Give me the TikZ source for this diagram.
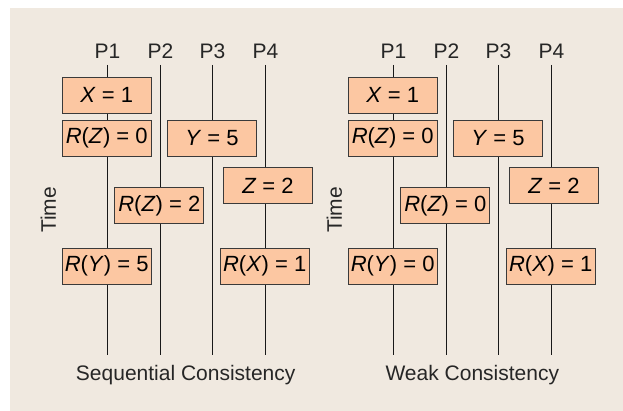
\documentclass[tikz,border=0pt]{standalone}
\usepackage{fontspec}
\setmainfont{Liberation Sans}
\usepackage{tikz}
\usetikzlibrary{positioning}
\definecolor{mybeige}{HTML}{F0E9E0}
\definecolor{mypeach}{HTML}{FCC7A2}
\definecolor{mygray}{HTML}{3A3A3A}
\tikzset{
	opbox/.style={draw=mygray, line width=0.9pt, fill=mypeach, minimum width=89pt, minimum height=36pt, inner sep=0pt, font=\fontsize{22}{24}\selectfont},
	proc/.style={font=\fontsize{21}{23}\selectfont, text=black!85, inner sep=0pt},
	pline/.style={line width=1.5pt, black!90}
}
\newcommand{\opv}[1]{\textit{#1}}

\begin{document}
\begin{tikzpicture}[x=1pt, y=-1pt]
	\useasboundingbox (0,0) rectangle (623,411);
	\fill[mybeige] (10,8) rectangle (623,411);
	% sequential consistency
	\node[proc, anchor=base] (sp1) at (107.5,58.5) {P1};
	\node[proc, anchor=base] (sp2) at (160.5,58.5) {P2};
	\node[proc, anchor=base] (sp3) at (212.5,58.5) {P3};
	\node[proc, anchor=base] (sp4) at (265.5,58.5) {P4};
	\coordinate (sb1) at (107.5,355);
	\coordinate (sb2) at (160.5,355);
	\coordinate (sb3) at (212.5,355);
	\coordinate (sb4) at (265.5,355);
	\draw[pline] (sp1.base) ++(0,6.5) -- (sb1);
	\draw[pline] (sp2.base) ++(0,6.5) -- (sb2);
	\draw[pline] (sp3.base) ++(0,6.5) -- (sb3);
	\draw[pline] (sp4.base) ++(0,6.5) -- (sb4);
	\node[opbox] (sx) at (106.7,95.3) {\opv{X} = 1};
	\node[opbox] (srz) at (106.7,138) {\opv{R}(\opv{Z}) = 0};
	\node[opbox] (sy) at (212,138) {\opv{Y} = 5};
	\node[opbox] (sz) at (268,185.7) {\opv{Z} = 2};
	\node[opbox] (srz2) at (159.3,205.7) {\opv{R}(\opv{Z}) = 2};
	\node[opbox] (sry) at (106.7,266.3) {\opv{R}(\opv{Y}) = 5};
	\node[opbox] (srx) at (264.7,266.3) {\opv{R}(\opv{X}) = 1};
	\node[proc, rotate=90] (stime) at (48.3,210) {Time};
	\node[proc, anchor=base] (sname) at (185.7,380) {Sequential Consistency};
	% weak consistency
	\node[proc, anchor=base] (wp1) at (393.5,58.5) {P1};
	\node[proc, anchor=base] (wp2) at (446.5,58.5) {P2};
	\node[proc, anchor=base] (wp3) at (498.5,58.5) {P3};
	\node[proc, anchor=base] (wp4) at (551.5,58.5) {P4};
	\coordinate (wb1) at (393.5,355);
	\coordinate (wb2) at (446.5,355);
	\coordinate (wb3) at (498.5,355);
	\coordinate (wb4) at (551.5,355);
	\draw[pline] (wp1.base) ++(0,6.5) -- (wb1);
	\draw[pline] (wp2.base) ++(0,6.5) -- (wb2);
	\draw[pline] (wp3.base) ++(0,6.5) -- (wb3);
	\draw[pline] (wp4.base) ++(0,6.5) -- (wb4);
	\node[opbox] (wx) at (392.7,95.3) {\opv{X} = 1};
	\node[opbox] (wrz) at (392.7,138) {\opv{R}(\opv{Z}) = 0};
	\node[opbox] (wy) at (498,138) {\opv{Y} = 5};
	\node[opbox] (wz) at (554,185.7) {\opv{Z} = 2};
	\node[opbox] (wrz2) at (445.3,205.7) {\opv{R}(\opv{Z}) = 0};
	\node[opbox] (wry) at (392.7,266.3) {\opv{R}(\opv{Y}) = 0};
	\node[opbox] (wrx) at (550.7,266.3) {\opv{R}(\opv{X}) = 1};
	\node[proc, rotate=90] (wtime) at (334.3,210) {Time};
	\node[proc, anchor=base] (wname) at (472.3,380) {Weak Consistency};
\end{tikzpicture}
\end{document}
